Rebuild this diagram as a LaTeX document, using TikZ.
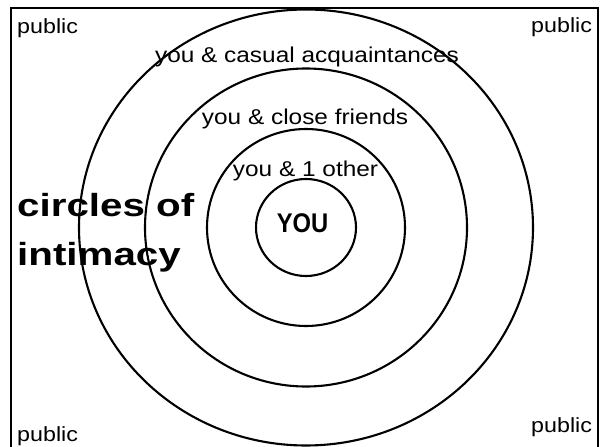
\documentclass[tikz,border=0pt]{standalone}
\usepackage{graphicx}
\usepackage{fontspec}
\setmainfont{Liberation Sans}
\tikzset{
  frameline/.style={line width=2.5pt, line cap=rect},
  ring/.style={line width=2.1pt},
  lbl/.style={inner sep=0pt, anchor=base, font=\fontsize{21.5}{25}\selectfont},
  publbl/.style={inner sep=0pt, anchor=base west, font=\fontsize{20.5}{24}\selectfont},
  titlelbl/.style={inner sep=0pt, anchor=base west, font=\fontsize{32}{38}\selectfont\bfseries},
}
\newcommand{\wide}[1]{\scalebox{1.135}[1]{#1}}
\begin{document}
\begin{tikzpicture}[x=1pt, y=-1pt]
  \useasboundingbox (0,0) rectangle (603,447);
  \coordinate (c) at (306,227.5);
  % frame (open at the bottom)
  \coordinate (fbl) at (11,450);
  \coordinate (ftl) at (11,8);
  \coordinate (ftr) at (598,8);
  \coordinate (fbr) at (598,450);
  \draw[frameline] (fbl) -- (ftl) -- (ftr) -- (fbr);
  % rings
  \draw[ring] (c) ellipse [x radius=50, y radius=48.5];
  \draw[ring] (c) ellipse [x radius=99, y radius=98.5];
  \draw[ring] (c) ellipse [x radius=161, y radius=159];
  \draw[ring] (c) ellipse [x radius=227, y radius=218];
  % labels
  \node[publbl] (pubTL) at (17,34) {\wide{public}};
  \node[publbl] (pubTR) at (531,32) {\wide{public}};
  \node[publbl] (pubBL) at (17,441) {\wide{public}};
  \node[publbl] (pubBR) at (531,432) {\wide{public}};
  \node[lbl] (casual) at (307,62) {\wide{you \& casual acquaintances}};
  \node[lbl] (close) at (305,124) {\wide{you \& close friends}};
  \node[lbl] (other) at (305.5,176) {\wide{you \& 1 other}};
  \node[inner sep=0pt, anchor=base, font=\fontsize{27}{30}\selectfont\bfseries] (you) at (302.5,232.5) {\scalebox{0.88}[1]{YOU}};
  \node[titlelbl] (title1) at (17,216) {\scalebox{1.26}[1]{circles of}};
  \node[titlelbl] (title2) at (17,265) {\scalebox{1.26}[1]{intimacy}};
\end{tikzpicture}
\end{document}
